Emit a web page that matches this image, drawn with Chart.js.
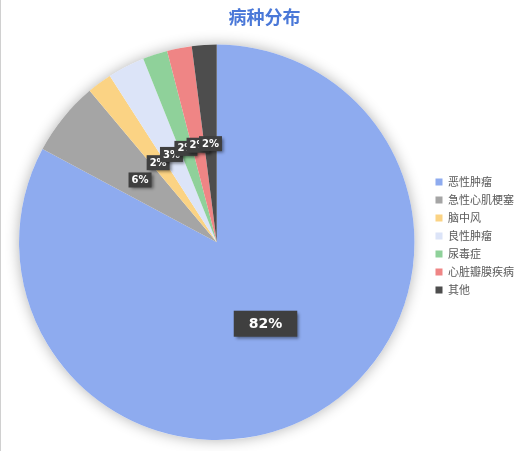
<!DOCTYPE html>
<html>
<head>
<meta charset="utf-8">
<script src="https://cdn.jsdelivr.net/npm/chart.js@4"></script>
<style>
  html, body { margin: 0; padding: 0; background: #fff; }
  #wrap { width: 523px; height: 451px; border-left: 1px solid #d0d0d0; }
</style>
</head>
<body>
<div id="wrap"><canvas id="pieChart"></canvas></div>
<script>
// Disease distribution (percent)
const categories = ['恶性肿瘤', '急性心肌梗塞', '脑中风', '良性肿瘤', '尿毒症', '心脏瓣膜疾病', '其他'];
const shares = [82, 6, 2, 3, 2, 2, 2];
const sliceColors = ['#8eabef', '#a5a5a5', '#fbd384', '#dce4f8', '#8fd19a', '#ef8585', '#4d4d4d'];

Chart.defaults.font.family = '"Noto Sans CJK SC", "Noto Sans", sans-serif';

// soft grey glow behind the pie
const pieShadow = {
    id: 'pieShadow',
    beforeDatasetsDraw(chart) {
        const arc = chart.getDatasetMeta(0).data[0];
        if (!arc) return;
        const ctx = chart.ctx;
        ctx.save();
        ctx.shadowColor = 'rgba(0,0,0,0.3)';
        ctx.shadowBlur = 14;
        ctx.fillStyle = '#ffffff';
        ctx.beginPath();
        ctx.arc(arc.x, arc.y, arc.outerRadius, 0, Math.PI * 2);
        ctx.fill();
        ctx.restore();
    }
};

// dark boxed percent labels
const boxLabels = {
    id: 'boxLabels',
    afterDatasetsDraw(chart) {
        const ctx = chart.ctx;
        const meta = chart.getDatasetMeta(0);
        meta.data.forEach((arc, i) => {
            const mid = (arc.startAngle + arc.endAngle) / 2;
            const big = shares[i] > 50;
            const dist = arc.outerRadius * (big ? 0.48 : 0.5);
            const x = arc.x + Math.cos(mid) * dist;
            const y = arc.y + Math.sin(mid) * dist;
            const text = shares[i] + '%';
            ctx.save();
            ctx.font = 'bold ' + (big ? 14 : 10) + 'px "DejaVu Sans", sans-serif';
            const w = ctx.measureText(text).width + (big ? 30 : 6);
            const h = big ? 26 : 15;
            ctx.shadowColor = 'rgba(0,0,0,0.45)';
            ctx.shadowBlur = 3;
            ctx.shadowOffsetX = 2;
            ctx.shadowOffsetY = 2;
            ctx.fillStyle = '#3f3f3f';
            ctx.fillRect(x - w / 2, y - h / 2, w, h);
            ctx.shadowColor = 'transparent';
            ctx.fillStyle = '#ffffff';
            ctx.textAlign = 'center';
            ctx.textBaseline = 'middle';
            ctx.fillText(text, x, y + 0.5);
            ctx.restore();
        });
    }
};

function createPieChart() {
    const ctx = document.getElementById('pieChart').getContext('2d');
    new Chart(ctx, {
        type: 'pie',
        data: {
            labels: categories,
            datasets: [{
                data: shares,
                backgroundColor: sliceColors,
                borderWidth: 0
            }]
        },
        options: {
            responsive: true,
            maintainAspectRatio: false,
            animation: false,
            layout: { padding: { top: 0, bottom: 11, left: 4, right: 0 } },
            plugins: {
                title: {
                    display: true,
                    text: '病种分布',
                    color: '#4a78d8',
                    font: { size: 18, weight: 'bold' },
                    padding: { top: 6, bottom: 17 }
                },
                legend: {
                    position: 'right',
                    title: {
                        display: true,
                        text: ' ',
                        font: { size: 11 },
                        padding: { top: 0, bottom: 19 }
                    },
                    labels: {
                        boxWidth: 7,
                        boxHeight: 7,
                        padding: 7,
                        color: '#595959',
                        font: { size: 11 }
                    }
                },
                tooltip: { enabled: false }
            }
        },
        plugins: [pieShadow, boxLabels]
    });
}

document.addEventListener('DOMContentLoaded', createPieChart);
</script>
</body>
</html>
